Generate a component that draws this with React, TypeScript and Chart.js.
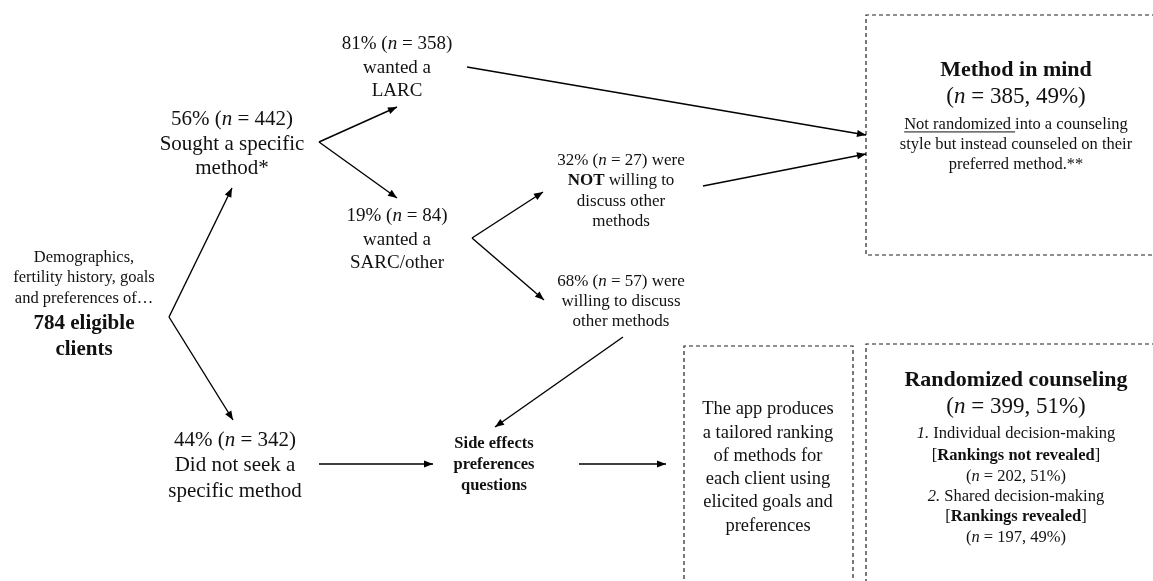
import React, { useEffect, useRef } from "react";
import { Chart, registerables } from "chart.js";

Chart.register(...registerables);

// ---------- data ----------
const eligibleClients = 784;
const splitLabels = ["Sought a specific method", "Did not seek a specific method"];
const splitPercents = [56, 44];
const splitCounts = [442, 342];
const methodTypes = ["LARC", "SARC/other"];
const methodPercents = [81, 19];
const methodCounts = [358, 84];
const willingPercents = [32, 68];
const willingCounts = [27, 57];
const armNames = ["Method in mind", "Randomized counseling"];
const armCounts = [385, 399];
const armPercents = [49, 51];
const subArmNames = ["Individual decision-making", "Shared decision-making"];
const subArmRankings = ["Rankings not revealed", "Rankings revealed"];
const subArmCounts = [202, 197];
const subArmPercents = [51, 49];

// ---------- text (markup: ** bold, * italic, __ underline) ----------
const nodeTexts: Record<string, string[]> = {
  demo: [
    "Demographics,",
    "fertility history, goals",
    "and preferences of\u2026",
    `**${eligibleClients} eligible**`,
    "**clients**",
  ],
  sought: [
    `${splitPercents[0]}% (*n* = ${splitCounts[0]})`,
    "Sought a specific",
    "method*",
  ],
  notSeek: [
    `${splitPercents[1]}% (*n* = ${splitCounts[1]})`,
    "Did not seek a",
    "specific method",
  ],
  larc: [`${methodPercents[0]}% (*n* = ${methodCounts[0]})`, "wanted a", methodTypes[0]],
  sarc: [`${methodPercents[1]}% (*n* = ${methodCounts[1]})`, "wanted a", methodTypes[1]],
  notWilling: [
    `${willingPercents[0]}% (*n* = ${willingCounts[0]}) were`,
    "**NOT** willing to",
    "discuss other",
    "methods",
  ],
  willing: [
    `${willingPercents[1]}% (*n* = ${willingCounts[1]}) were`,
    "willing to discuss",
    "other methods",
  ],
  side: ["**Side effects**", "**preferences**", "**questions**"],
  app: [
    "The app produces",
    "a tailored ranking",
    "of methods for",
    "each client using",
    "elicited goals and",
    "preferences",
  ],
  mind: [
    `**${armNames[0]}**`,
    `(*n* = ${armCounts[0]}, ${armPercents[0]}%)`,
    "__Not randomized __into a counseling",
    "style but instead counseled on their",
    "preferred method.**",
  ],
  rand: [
    `**${armNames[1]}**`,
    `(*n* = ${armCounts[1]}, ${armPercents[1]}%)`,
    `*1.* ${subArmNames[0]}`,
    `[**${subArmRankings[0]}**]`,
    `(*n* = ${subArmCounts[0]}, ${subArmPercents[0]}%)`,
    `*2.* ${subArmNames[1]}`,
    `[**${subArmRankings[1]}**]`,
    `(*n* = ${subArmCounts[1]}, ${subArmPercents[1]}%)`,
  ],
};

// ---------- layout ----------
const W = 1153;
const H = 581;
type NodeLayout = { x: number; ys: number[]; sizes: number[] };
const nodeLayout: Record<string, NodeLayout> = {
  demo: { x: 84, ys: [258, 278, 299, 324, 350], sizes: [16.5, 16.5, 16.5, 21, 21] },
  sought: { x: 232, ys: [119, 144, 168], sizes: [21, 21, 21] },
  notSeek: { x: 235, ys: [440, 465, 491], sizes: [21, 21, 21] },
  larc: { x: 397, ys: [44, 68, 91], sizes: [19, 19, 19] },
  sarc: { x: 397, ys: [216, 240, 263], sizes: [19, 19, 19] },
  notWilling: { x: 621, ys: [161, 181, 202, 222], sizes: [17, 17, 17, 17] },
  willing: { x: 621, ys: [282, 302, 322], sizes: [17, 17, 17] },
  side: { x: 494, ys: [444, 465, 486], sizes: [16.5, 16.5, 16.5] },
  app: { x: 768, ys: [409, 433, 456, 479, 502, 526], sizes: [18.5, 18.5, 18.5, 18.5, 18.5, 18.5] },
  mind: { x: 1016, ys: [70, 97, 125, 145, 165], sizes: [22, 23, 16.5, 16.5, 16.5] },
  rand: { x: 1016, ys: [380, 407, 434, 456, 477, 497, 517, 538], sizes: [22, 23, 16.5, 16.5, 16.5, 16.5, 16.5, 16.5] },
};

// arrows: [from, to]
const arrows: [number, number][][] = [
  [[169, 317], [232, 188]],
  [[169, 317], [233, 420]],
  [[319, 142], [397, 107]],
  [[319, 142], [397, 198]],
  [[467, 67], [866, 135]],
  [[703, 186], [866, 154]],
  [[472, 238], [543, 192]],
  [[472, 238], [544, 300]],
  [[623, 337], [495, 427]],
  [[319, 464], [433, 464]],
  [[579, 464], [666, 464]],
];

// dashed boxes (open polylines, edges running off canvas)
const boxes: [number, number][][] = [
  [[1170, 15], [866, 15], [866, 255], [1170, 255]],
  [[1170, 344], [866, 344], [866, 600]],
  [[684, 600], [684, 346], [853, 346], [853, 600]],
];

const FONT = '"Liberation Serif", "Times New Roman", serif';

type Run = { t: string; b: boolean; i: boolean; u: boolean };
function parse(s: string): Run[] {
  const runs: Run[] = [];
  let b = false, i = false, u = false, cur = "";
  let k = 0;
  const push = () => {
    if (cur) runs.push({ t: cur, b, i, u });
    cur = "";
  };
  while (k < s.length) {
    if (s.startsWith("**", k)) {
      // literal "**" at end of 'method.**'
      if (k + 2 === s.length && !b) { cur += "**"; k += 2; continue; }
      push(); b = !b; k += 2; continue;
    }
    if (s.startsWith("__", k)) { push(); u = !u; k += 2; continue; }
    if (s[k] === "*" && !(s.length === k + 1)) { push(); i = !i; k += 1; continue; }
    cur += s[k];
    k += 1;
  }
  push();
  return runs;
}

const textPlugin = {
  id: "flowText",
  afterDatasetsDraw(chart: any) {
    const ctx = chart.ctx as CanvasRenderingContext2D;
    const xs = chart.scales.x;
    const ys = chart.scales.y;
    ctx.save();
    // arrowheads
    chart.data.datasets.forEach((ds: any, di: number) => {
      if (!ds.arrow) return;
      const meta = chart.getDatasetMeta(di);
      const pts = meta.data;
      const a = pts[pts.length - 2];
      const b = pts[pts.length - 1];
      const ang = Math.atan2(b.y - a.y, b.x - a.x);
      const L = 9, Wd = 3.6;
      ctx.beginPath();
      ctx.moveTo(b.x, b.y);
      ctx.lineTo(b.x - L * Math.cos(ang) + Wd * Math.sin(ang), b.y - L * Math.sin(ang) - Wd * Math.cos(ang));
      ctx.lineTo(b.x - L * Math.cos(ang) - Wd * Math.sin(ang), b.y - L * Math.sin(ang) + Wd * Math.cos(ang));
      ctx.closePath();
      ctx.fillStyle = "#000";
      ctx.fill();
    });
    // text
    ctx.fillStyle = "#111";
    ctx.strokeStyle = "#111";
    ctx.textBaseline = "middle";
    ctx.textAlign = "left";
    Object.keys(nodeTexts).forEach((key) => {
      const lines = nodeTexts[key];
      const lay = nodeLayout[key];
      const cx = xs.getPixelForValue(lay.x);
      lines.forEach((line, li) => {
        const size = lay.sizes[li];
        const cy = ys.getPixelForValue(lay.ys[li]);
        const runs = parse(line);
        const fontOf = (r: Run) => `${r.i ? "italic " : ""}${r.b ? "bold " : ""}${size}px ${FONT}`;
        let total = 0;
        const widths = runs.map((r) => {
          ctx.font = fontOf(r);
          const w = ctx.measureText(r.t).width;
          total += w;
          return w;
        });
        let x = cx - total / 2;
        runs.forEach((r, ri) => {
          ctx.font = fontOf(r);
          ctx.fillText(r.t, x, cy);
          if (r.u) {
            ctx.beginPath();
            ctx.lineWidth = 1;
            ctx.moveTo(x, cy + size * 0.42);
            ctx.lineTo(x + widths[ri], cy + size * 0.42);
            ctx.stroke();
          }
          x += widths[ri];
        });
      });
    });
    ctx.restore();
  },
};

export default function App() {
  const ref = useRef<HTMLCanvasElement | null>(null);
  useEffect(() => {
    if (!ref.current) return;
    const datasets: any[] = [];
    arrows.forEach((seg) => {
      datasets.push({
        type: "line",
        data: seg.map(([x, y]) => ({ x, y })),
        showLine: true,
        borderColor: "#000",
        borderWidth: 1.4,
        pointRadius: 0,
        fill: false,
        arrow: true,
        clip: false,
      });
    });
    boxes.forEach((seg) => {
      datasets.push({
        type: "line",
        data: seg.map(([x, y]) => ({ x, y })),
        showLine: true,
        borderColor: "#222",
        borderWidth: 1.2,
        borderDash: [4, 3],
        pointRadius: 0,
        fill: false,
      });
    });
    const chart = new Chart(ref.current, {
      type: "scatter",
      data: { datasets },
      options: {
        animation: false,
        responsive: false,
        maintainAspectRatio: false,
        layout: { padding: 0 },
        plugins: { legend: { display: false }, tooltip: { enabled: false } },
        events: [],
        scales: {
          x: { type: "linear", min: 0, max: W, display: false },
          y: { type: "linear", min: 0, max: H, reverse: true, display: false },
        },
      } as any,
      plugins: [textPlugin],
    });
    return () => chart.destroy();
  }, []);
  return (
    <div style={{ position: "fixed", left: 0, top: 0, width: W, height: H, background: "#fff" }}>
      <canvas ref={ref} width={W} height={H} style={{ width: W, height: H, display: "block" }} />
    </div>
  );
}
